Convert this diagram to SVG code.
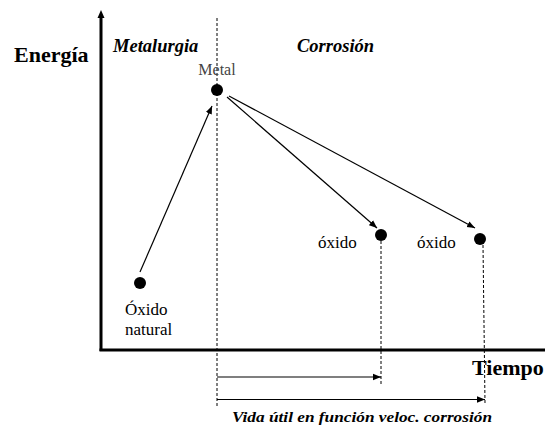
<svg xmlns="http://www.w3.org/2000/svg" width="545" height="432" viewBox="0 0 545 432">
<defs>
<marker id="ah" viewBox="0 0 10 10" refX="10" refY="5" markerWidth="8" markerHeight="8" markerUnits="userSpaceOnUse" orient="auto"><path d="M0,1 L10,5 L0,9 z" fill="#000"/></marker>
</defs>
<style>
text{font-family:'Liberation Serif','DejaVu Serif',serif;fill:#000}
.b{font-weight:bold}
.bi{font-weight:bold;font-style:italic}
.dash{stroke:#000;stroke-width:1;stroke-dasharray:3,2;fill:none}
.ln{stroke:#000;stroke-width:1.2;fill:none}
.dot{fill:#000}
</style>
<rect width="545" height="432" fill="#fff"/>
<g id="axes">
<line x1="101" y1="351" x2="101" y2="16" stroke="#000" stroke-width="3"/>
<path d="M101,10 L97.5,18 L104.5,18 z" fill="#000"/>
<line x1="99.5" y1="350" x2="545" y2="350" stroke="#000" stroke-width="3"/>
<text class="b" x="14" y="62" font-size="22">Energía</text>
<text class="b" x="472" y="375" font-size="22">Tiempo</text>
</g>
<g id="regions">
<text class="bi" x="113" y="52" font-size="18.5">Metalurgia</text>
<text class="bi" x="297" y="52" font-size="18.5">Corrosión</text>
</g>
<g id="connectors">
<line class="dash" x1="217" y1="18" x2="217" y2="408"/>
<line class="dash" x1="381" y1="241" x2="381" y2="384"/>
<line class="dash" x1="483" y1="245" x2="485" y2="403"/>
<line class="ln" x1="140" y1="272" x2="212" y2="106" marker-end="url(#ah)"/>
<line class="ln" x1="227" y1="97" x2="377" y2="228" marker-end="url(#ah)"/>
<line class="ln" x1="229" y1="96" x2="475" y2="228" marker-end="url(#ah)"/>
<line class="ln" x1="217" y1="377" x2="381" y2="377" marker-end="url(#ah)"/>
<line class="ln" x1="217" y1="399.5" x2="485" y2="399.5" marker-end="url(#ah)"/>
</g>
<g id="metal">
<circle class="dot" cx="217" cy="90" r="6"/>
<text x="217" y="75" font-size="16" text-anchor="middle" style="fill:#444">Metal</text>
</g>
<g id="oxido-natural">
<circle class="dot" cx="140" cy="283" r="6"/>
<text x="125" y="315" font-size="17">Óxido</text>
<text x="125" y="335" font-size="17">natural</text>
</g>
<g id="oxido1">
<circle class="dot" cx="381" cy="235" r="6"/>
<text x="318" y="248" font-size="17">óxido</text>
</g>
<g id="oxido2">
<circle class="dot" cx="480" cy="239" r="6"/>
<text x="417" y="248" font-size="17">óxido</text>
</g>
<g id="vida">
<text class="bi" x="232" y="422" font-size="15" textLength="260" lengthAdjust="spacingAndGlyphs">Vida útil en función veloc. corrosión</text>
</g>
</svg>
